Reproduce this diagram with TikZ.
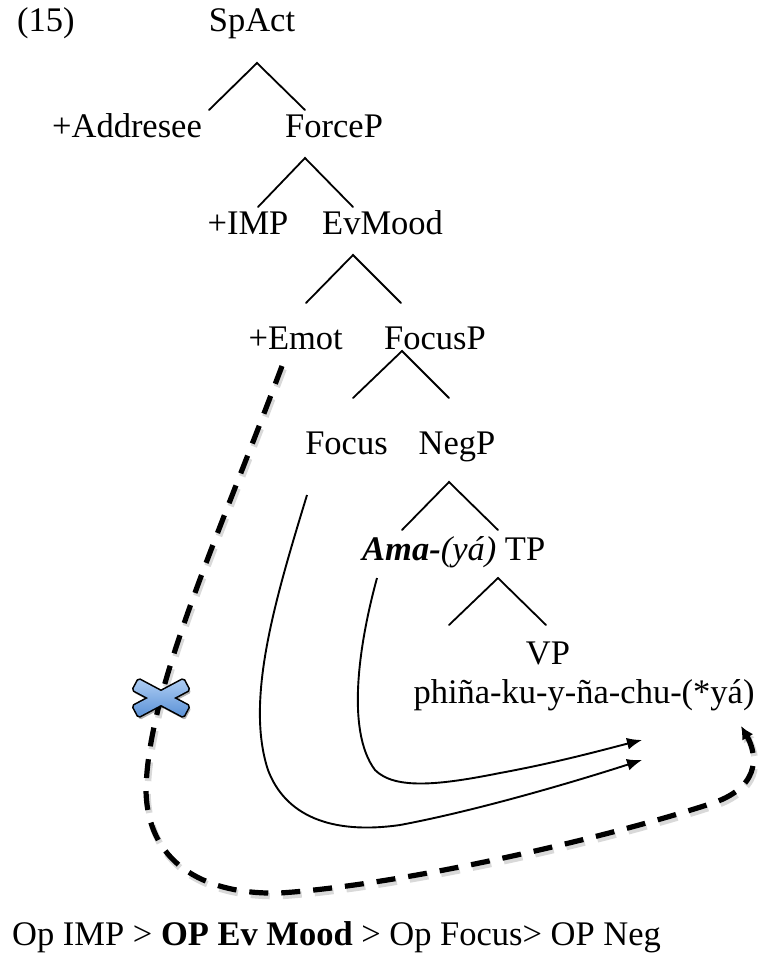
\documentclass[tikz,border=0pt]{standalone}
\usepackage{fontspec}
\setmainfont{Liberation Serif}
\usetikzlibrary{arrows.meta}
\definecolor{xtop}{HTML}{AECDF3}
\definecolor{xbot}{HTML}{5A91D6}
\begin{document}
\begin{tikzpicture}[x=1pt,y=-1pt,
  lbl/.style={inner sep=0pt, font=\fontsize{34.5}{41}\selectfont, anchor=base},
  branch/.style={line width=1.8pt, line cap=round},
  move/.style={line width=1.9pt, -{Latex[length=15pt,width=12pt]}},
  dashes/.style={dash pattern=on 19pt off 13pt},
  blocked/.style={line width=5.2pt, dashes,
    -{Latex[length=13pt,width=13pt]},
    preaction={draw=black, dashes, line width=6.5pt, opacity=.15,
      transform canvas={shift={(1.5pt,-3pt)}}}},
  xbar/.style={rounded corners=1.5pt}]
\useasboundingbox (0,0) rectangle (761,955);

% ---- labels ----
\node[lbl, anchor=base west] (ex) at (17,32) {(15)};
\node[lbl] (spact) at (252,32) {SpAct};
\node[lbl] (addr) at (127,137) {+Addresee};
\node[lbl, anchor=base west] (force) at (285,137) {ForceP};
\node[lbl] (imp) at (248,234) {+IMP};
\node[lbl, anchor=base west] (evmood) at (322,234) {EvMood};
\node[lbl, anchor=base east] (emot) at (343,349) {+Emot};
\node[lbl] (focusp) at (435,349) {FocusP};
\node[lbl] (focus) at (346.5,454) {Focus};
\node[lbl] (negp) at (457,454) {NegP};
\node[lbl, anchor=base west] (ama) at (362,560) {\textbf{\textit{Ama-}}\textit{(yá)} TP};
\node[lbl] (vp) at (548,664) {VP};
\node[lbl] (verb) at (584,703) {phiña-ku-y-ña-chu-(*yá)};
\node[lbl, anchor=base west] (ops) at (12,945) {Op IMP > \textbf{OP Ev Mood} > Op Focus> OP Neg};

% ---- tree branches ----
\coordinate (t1) at (257,63);  \coordinate (t1l) at (209,110); \coordinate (t1r) at (305,110);
\coordinate (t2) at (305,158); \coordinate (t2l) at (258,207); \coordinate (t2r) at (353,207);
\coordinate (t3) at (353,255); \coordinate (t3l) at (306,303); \coordinate (t3r) at (401,303);
\coordinate (t4) at (402,351); \coordinate (t4l) at (353,398); \coordinate (t4r) at (449,398);
\coordinate (t5) at (449,482); \coordinate (t5l) at (402,530); \coordinate (t5r) at (498,530);
\coordinate (t6) at (498,578); \coordinate (t6l) at (449,625); \coordinate (t6r) at (546,625);
\foreach \n in {t1,t2,t3,t4,t5,t6}
  \draw[branch] (\n l) -- (\n) -- (\n r);

% ---- movement arrows ----
\coordinate (focus-src) at (307,495);
\coordinate (ama-src) at (377,578);
\coordinate (tip-low) at (642,760);
\coordinate (tip-high) at (642,740);
\draw[move] (focus-src) .. controls (275,600) and (245,700) .. (268,770)
  .. controls (285,815) and (330,835) .. (400,825)
  .. controls (480,810) and (580,780) .. (tip-low);
\draw[move] (ama-src) .. controls (360,640) and (345,730) .. (375,770)
  .. controls (395,790) and (440,785) .. (500,773)
  .. controls (560,762) and (610,748) .. (tip-high);

% ---- blocked movement (dashed) ----
\coordinate (emot-src) at (282,366);
\coordinate (yaa-tip) at (741,726);
\draw[blocked] (emot-src) .. controls (215,545) and (148,690) .. (146,790)
  .. controls (147,860) and (200,895) .. (280,893)
  .. controls (400,885) and (600,840) .. (713,803)
  .. controls (765,785) and (755,750) .. (yaa-tip);

% ---- cross on the blocked path ----
\coordinate (xmark) at (161,698);
\begin{scope}[shift={(xmark)}]
  \foreach \a in {28,-28}
    \fill[xbar, black, opacity=.3, rotate=\a, transform canvas={shift={(1.5pt,-2.5pt)}}]
      (-29pt,-6.5pt) rectangle (29pt,6.5pt);
  \foreach \a in {28,-28}
    \draw[xbar, line width=3.2pt, rotate=\a] (-28.5pt,-6pt) rectangle (28.5pt,6pt);
  \foreach \a in {28,-28}
    \shade[xbar, top color=xtop, bottom color=xbot, rotate=\a] (-28.5pt,-6pt) rectangle (28.5pt,6pt);
\end{scope}
\end{tikzpicture}
\end{document}
